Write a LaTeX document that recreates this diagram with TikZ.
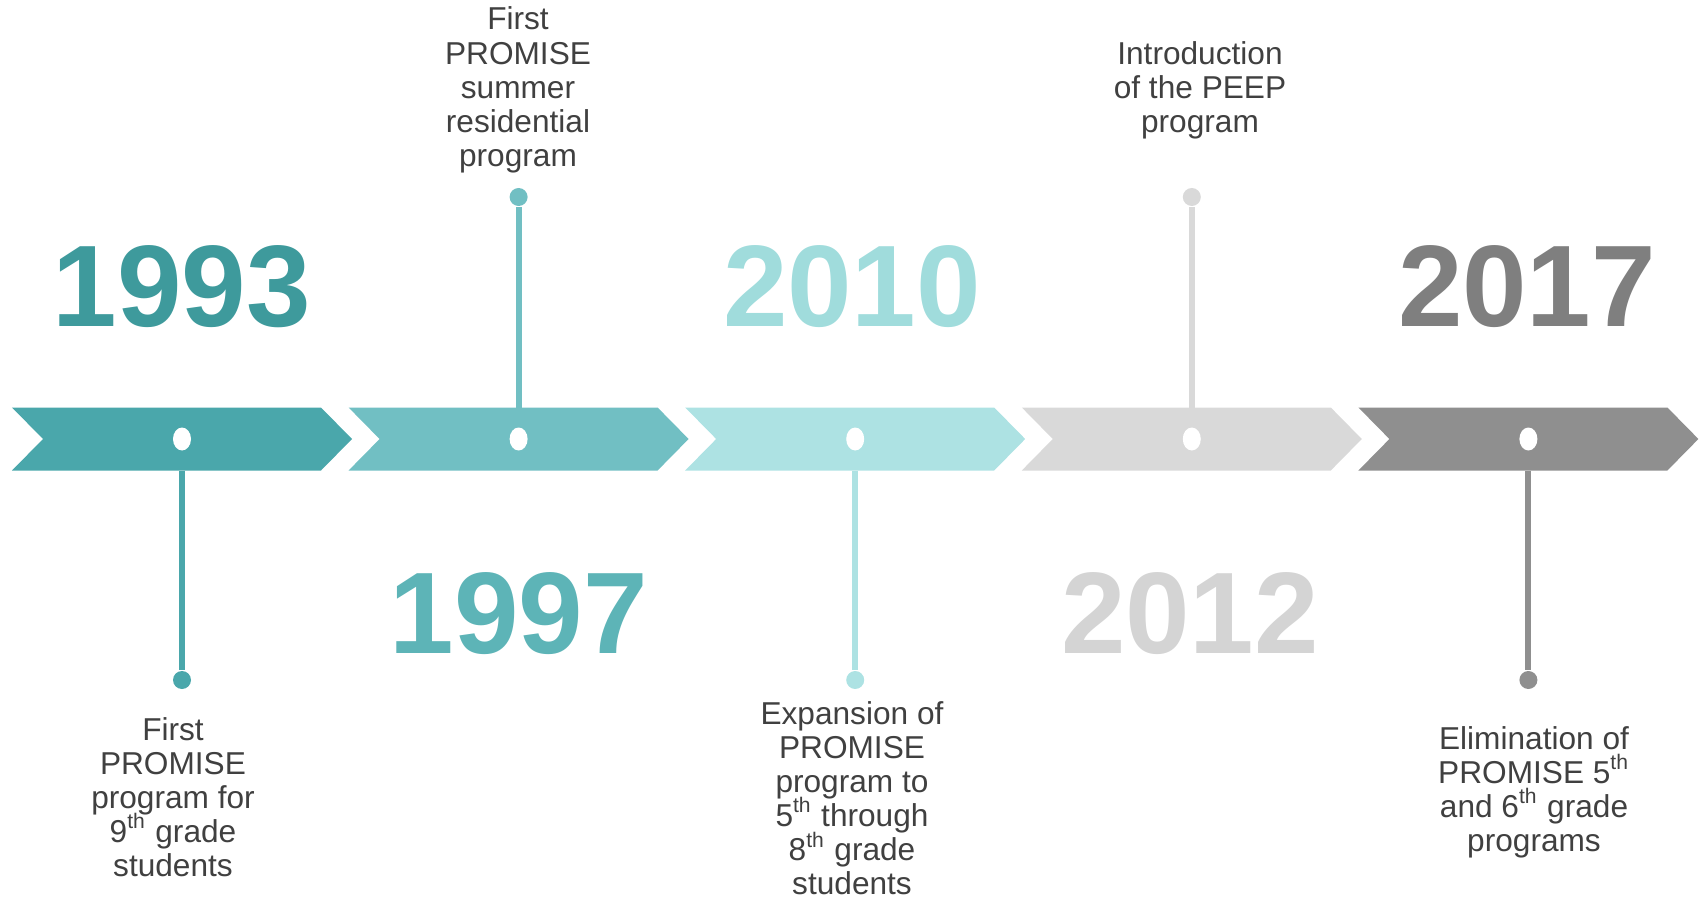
\documentclass[tikz,border=0pt]{standalone}
\usepackage{fontspec}
\setmainfont{Liberation Sans}
\usetikzlibrary{shapes.geometric}
\definecolor{chA}{HTML}{4AA7AB}
\definecolor{chB}{HTML}{71BFC3}
\definecolor{chC}{HTML}{ADE2E3}
\definecolor{chD}{HTML}{D9D9D9}
\definecolor{chE}{HTML}{8F8F8F}
\definecolor{yrA}{HTML}{3E9A9C}
\definecolor{yrB}{HTML}{5DB4B7}
\definecolor{yrC}{HTML}{A0DCDC}
\definecolor{yrD}{HTML}{D4D4D4}
\definecolor{yrE}{HTML}{7F7F7F}
\definecolor{notegray}{HTML}{404040}
\newcommand{\ordsup}[1]{\smash{\textsuperscript{#1}}}

\begin{document}
\begin{tikzpicture}[
    year/.style={font=\fontsize{33}{33}\selectfont\bfseries},
    note/.style={align=center,text=notegray,font=\fontsize{9}{9.7}\selectfont},
    hole/.style={ellipse,fill=white,inner sep=0pt,minimum width=0.18cm,minimum height=0.23cm},
    knob/.style={circle,inner sep=0pt,minimum size=0.18cm},
    stem/.style={line width=1.7pt}
  ]
  \useasboundingbox (0,0) rectangle (17,9);
  % chevrons
  \fill[chA] (0.12,4.925) -- ++(3.09,0) -- ++(0.31,-0.315) -- ++(-0.31,-0.315) -- ++(-3.09,0) -- ++(0.31,0.315) -- cycle;
  \fill[chB] (3.486,4.925) -- ++(3.09,0) -- ++(0.31,-0.315) -- ++(-0.31,-0.315) -- ++(-3.09,0) -- ++(0.31,0.315) -- cycle;
  \fill[chC] (6.852,4.925) -- ++(3.09,0) -- ++(0.31,-0.315) -- ++(-0.31,-0.315) -- ++(-3.09,0) -- ++(0.31,0.315) -- cycle;
  \fill[chD] (10.218,4.925) -- ++(3.09,0) -- ++(0.31,-0.315) -- ++(-0.31,-0.315) -- ++(-3.09,0) -- ++(0.31,0.315) -- cycle;
  \fill[chE] (13.584,4.925) -- ++(3.09,0) -- ++(0.31,-0.315) -- ++(-0.31,-0.315) -- ++(-3.09,0) -- ++(0.31,0.315) -- cycle;
  % holes on the chevrons
  \node[hole] (h1) at (1.82,4.61) {};
  \node[hole] (h2) at (5.186,4.61) {};
  \node[hole] (h3) at (8.552,4.61) {};
  \node[hole] (h4) at (11.918,4.61) {};
  \node[hole] (h5) at (15.284,4.61) {};
  % stem feet on the chevron edges
  \coordinate (b1) at (1.82,4.295);
  \coordinate (b2) at (5.186,4.925);
  \coordinate (b3) at (8.552,4.295);
  \coordinate (b4) at (11.918,4.925);
  \coordinate (b5) at (15.284,4.295);
  % knobs and stems
  \node[knob,fill=chA] (k1) at (1.82,2.20) {};
  \node[knob,fill=chB] (k2) at (5.186,7.03) {};
  \node[knob,fill=chC] (k3) at (8.552,2.20) {};
  \node[knob,fill=chD] (k4) at (11.918,7.03) {};
  \node[knob,fill=chE] (k5) at (15.284,2.20) {};
  \draw[stem,chA] (b1) -- (k1);
  \draw[stem,chB] (b2) -- (k2);
  \draw[stem,chC] (b3) -- (k3);
  \draw[stem,chD] (b4) -- (k4);
  \draw[stem,chE] (b5) -- (k5);
  % years
  \node[year,text=yrA] (y1993) at (1.82,6.13) {1993};
  \node[year,text=yrB] (y1997) at (5.186,2.86) {1997};
  \node[year,text=yrC] (y2010) at (8.52,6.13) {2010};
  \node[year,text=yrD] (y2012) at (11.90,2.86) {2012};
  \node[year,text=yrE] (y2017) at (15.27,6.13) {2017};
  % notes
  \node[note] (n1993) at (1.73,1.03) {First\\PROMISE\\program for\\9\ordsup{th} grade\\students};
  \node[note] (n1997) at (5.18,8.10) {First\\PROMISE\\summer\\residential\\program};
  \node[note] (n2010) at (8.52,1.02) {Expansion of\\PROMISE\\program to\\5\ordsup{th} through\\8\ordsup{th} grade\\students};
  \node[note] (n2012) at (12.00,8.10) {Introduction\\of the PEEP\\program};
  \node[note] (n2017) at (15.34,1.08) {Elimination of\\PROMISE 5\ordsup{th}\\and 6\ordsup{th} grade\\programs};
\end{tikzpicture}
\end{document}
